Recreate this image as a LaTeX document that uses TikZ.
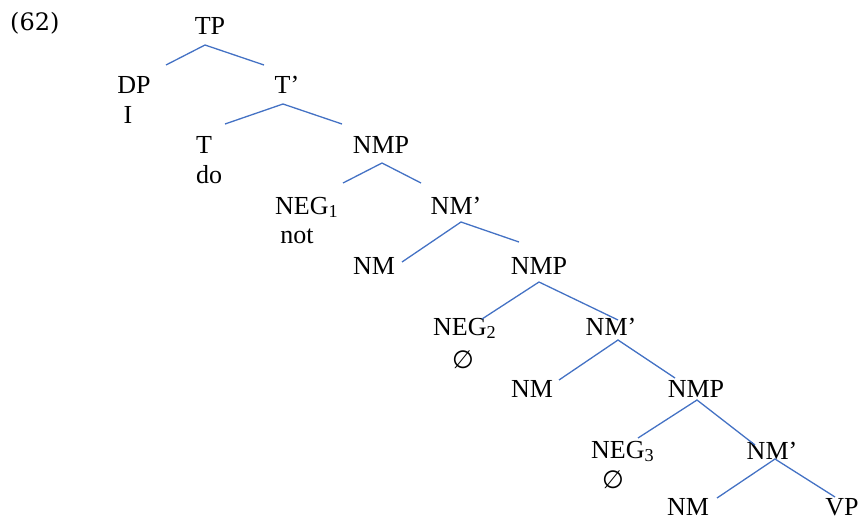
\documentclass[tikz,border=0pt]{standalone}
\usepackage{fontspec}
\setmainfont{Liberation Serif}
\newfontfamily\exfont{DejaVu Serif}
\newfontfamily\symfont{DejaVu Sans}
\tikzset{
  lbl/.style={inner sep=0pt, anchor=base, font=\fontsize{26}{29}\selectfont},
  lblw/.style={lbl, anchor=base west},
  branch/.style={draw=treeblue, line width=1.3pt}
}
\definecolor{treeblue}{RGB}{68,114,196}
\begin{document}
\begin{tikzpicture}[x=1pt,y=-1pt]
\useasboundingbox (0,0) rectangle (859,520);
% labels
\node[lblw, font=\exfont\fontsize{24}{28}\selectfont] (ex) at (10,30) {(62)};
\node[lbl] (tp) at (210,34) {TP};
\node[lbl] (dp) at (134,93) {DP};
\node[lbl] (dpw) at (128,123) {I};
\node[lbl] (tbar) at (287,93) {T’};
\node[lbl] (t) at (204,153) {T};
\node[lbl] (tw) at (209,183) {do};
\node[lbl] (nmp1) at (381,153) {NMP};
\node[lblw] (neg1) at (275,214) {NEG\textsubscript{1}};
\node[lbl] (neg1w) at (297,243) {not};
\node[lbl] (nmb1) at (456,214) {NM’};
\node[lbl] (nm1) at (374,274) {NM};
\node[lbl] (nmp2) at (539,274) {NMP};
\node[lblw] (neg2) at (433,335) {NEG\textsubscript{2}};
\node[lbl] (neg2w) at (463,368) {\symfont\fontsize{25}{28}\selectfont ∅};
\node[lbl] (nmb2) at (611,335) {NM’};
\node[lbl] (nm2) at (532,397) {NM};
\node[lbl] (nmp3) at (696,397) {NMP};
\node[lblw] (neg3) at (591,458) {NEG\textsubscript{3}};
\node[lbl] (neg3w) at (613,488) {\symfont\fontsize{25}{28}\selectfont ∅};
\node[lbl] (nmb3) at (772,459) {NM’};
\node[lbl] (nm3) at (688,515) {NM};
\node[lbl] (vp) at (842,515) {VP};
% branch points
\coordinate (a1) at (205,45);  \coordinate (l1) at (166,65);  \coordinate (r1) at (264,65);
\coordinate (a2) at (283,104); \coordinate (l2) at (225,124); \coordinate (r2) at (342,124);
\coordinate (a3) at (382,163); \coordinate (l3) at (343,183); \coordinate (r3) at (421,183);
\coordinate (a4) at (461,222); \coordinate (l4) at (402,262); \coordinate (r4) at (519,242);
\coordinate (a5) at (539,282); \coordinate (l5) at (482,319); \coordinate (r5) at (618,320);
\coordinate (a6) at (618,340); \coordinate (l6) at (559,380); \coordinate (r6) at (675,378);
\coordinate (a7) at (697,400); \coordinate (l7) at (638,438); \coordinate (r7) at (755,445);
\coordinate (a8) at (775,459); \coordinate (l8) at (717,498); \coordinate (r8) at (835,497);
\foreach \i in {1,...,8}{
  \draw[branch] (l\i) -- (a\i) -- (r\i);
}
\end{tikzpicture}
\end{document}
